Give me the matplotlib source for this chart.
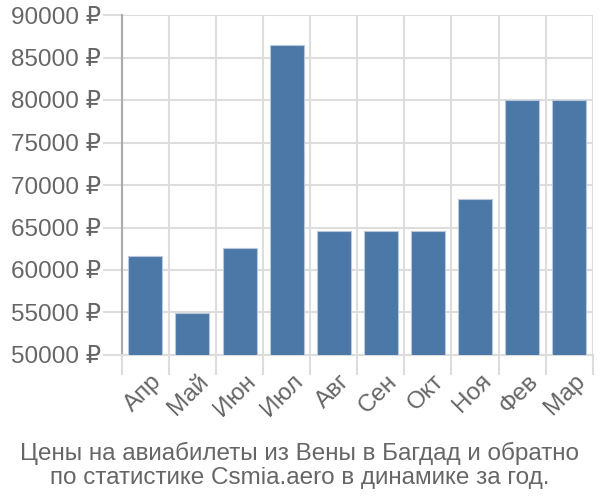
import matplotlib
matplotlib.use("Agg")
import matplotlib.pyplot as plt
import matplotlib.transforms as mtransforms
import numpy as np

months = ["Апр", "Май", "Июн", "Июл", "Авг", "Сен", "Окт", "Ноя", "Фев", "Мар"]
prices = [61650, 54950, 62600, 86450, 64600, 64600, 64600, 68350, 80000, 80000]
yticks = [50000, 55000, 60000, 65000, 70000, 75000, 80000, 85000, 90000]
title = "Цены на авиабилеты из Вены в Багдад и обратно\nпо статистике Csmia.aero в динамике за год."

plt.rcParams['font.family'] = ['Liberation Sans', 'DejaVu Sans']

fig = plt.figure(figsize=(6, 5), dpi=100)
ax = fig.add_axes([0.203, 0.29, 0.785, 0.68])

x = np.arange(len(months)) + 0.5
ax.bar(x, prices, width=0.72, color='#4c78a8', edgecolor='#b8c8dc', linewidth=0.8, zorder=3)

ax.set_xlim(0, len(months))
ax.set_ylim(50000, 90000)
ax.set_yticks(yticks)
ax.set_yticklabels([f"{v} ₽" for v in yticks])
ax.set_xticks(np.arange(len(months) + 1))
ax.set_xticklabels([])
ax.set_xticks(x, minor=True)
ax.set_xticklabels(months, minor=True, rotation=45, ha='right', va='top', rotation_mode='anchor')

ax.tick_params(axis='x', which='major', length=14.5, color='#dddddd', width=1.5)
ax.tick_params(axis='x', which='minor', length=0, pad=11)
ax.tick_params(axis='y', length=14, color='#dddddd', width=1.5, pad=1)
ax.tick_params(labelsize=17.5, labelcolor='#666666', which='both')

offset = mtransforms.ScaledTranslation(5/100, 0, fig.dpi_scale_trans)
for lbl in ax.get_xticklabels(minor=True):
    lbl.set_transform(lbl.get_transform() + offset)

ax.grid(True, which='major', color='#dddddd', linewidth=1.5, zorder=0)
for s in ['top', 'right']:
    ax.spines[s].set_visible(False)
ax.spines['left'].set_color('#aaaaaa')
ax.spines['left'].set_linewidth(1.5)
ax.spines['bottom'].set_color('#dddddd')
ax.spines['bottom'].set_linewidth(1.5)

fig.text(0.5, 0.022, title, ha='center', va='bottom', fontsize=17.5, color='#666666', linespacing=1.1)

fig.savefig("out.png", dpi=100)
